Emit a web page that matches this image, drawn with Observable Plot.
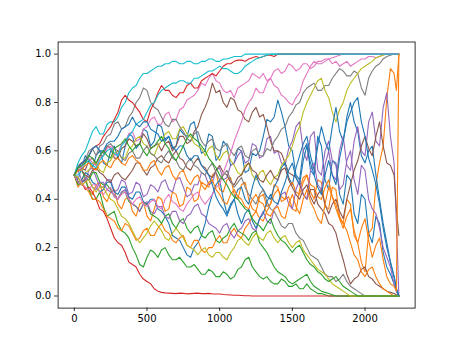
<!DOCTYPE html>
<html><head><meta charset="utf-8">
<script src="https://cdn.jsdelivr.net/npm/d3@7"></script>
<script src="https://cdn.jsdelivr.net/npm/@observablehq/plot@0.6"></script>
<style>body{margin:0;background:#fff} #chart svg{display:block}</style>
</head><body><div id="chart"></div>
<script>
// main sample steps and the in-between steps
const steps = [0,50,100,150,200,250,300,350,400,450,500,550,600,650,700,750,800,850,900,950,1000,1050,1100,1150,1200,1250,1300,1350,1400,1450,1500,1550,1600,1650,1700,1750,1800,1850,1900,1950,2000,2050,2100,2150,2200,2233];
const midSteps = [25,75,125,175,225,275,325,375,425,475,525,575,625,675,725,775,825,875,925,975,1025,1075,1125,1175,1225,1275,1325,1375,1425,1475,1525,1575,1625,1675,1725,1775,1825,1875,1925,1975,2025,2075,2125,2175,2216];
const xTicks = [0,500,1000,1500,2000];
const yTicks = [0,0.2,0.4,0.6,0.8,1.0];

const s0 = [0.50,0.53,0.56,0.58,0.55,0.60,0.57,0.62,0.66,0.63, 0.68,0.64,0.70,0.66,0.62,0.67,0.71,0.65,0.60,0.66, 0.58,0.62,0.55,0.60,0.52,0.58,0.66,0.72,0.81,0.70, 0.60,0.48,0.63,0.50,0.62,0.44,0.55,0.38,0.48,0.30, 0.40,0.22,0.30,0.12,0.05,0.00];
const m0 = [0.48,0.58,0.53,0.60,0.54,0.62,0.55,0.67,0.61,0.69, 0.62,0.71,0.64,0.61,0.69,0.66,0.72,0.59,0.67,0.56, 0.64,0.54,0.61,0.51,0.59,0.60,0.73,0.74,0.76,0.62, 0.50,0.60,0.52,0.66,0.48,0.56,0.42,0.50,0.34,0.42, 0.26,0.33,0.18,0.09,0.02];
const s1 = [0.50,0.47,0.44,0.46,0.41,0.43,0.38,0.40,0.35,0.38, 0.33,0.36,0.40,0.36,0.42,0.38,0.44,0.40,0.46,0.50, 0.44,0.48,0.42,0.46,0.40,0.35,0.42,0.38,0.45,0.40, 0.36,0.44,0.50,0.40,0.47,0.36,0.44,0.30,0.38,0.22, 0.10,0.28,0.55,0.82,0.92,1.00];
const m1 = [0.45,0.49,0.42,0.47,0.39,0.44,0.36,0.41,0.33,0.39, 0.31,0.41,0.35,0.43,0.37,0.45,0.39,0.47,0.45,0.51, 0.43,0.49,0.40,0.47,0.36,0.41,0.37,0.46,0.39,0.41, 0.35,0.49,0.43,0.48,0.37,0.45,0.33,0.40,0.25,0.14, 0.26,0.46,0.62,0.94,0.85];
const s2 = [0.50,0.47,0.44,0.40,0.37,0.34,0.30,0.26,0.20,0.13, 0.16,0.18,0.19,0.17,0.15,0.14,0.12,0.11,0.09,0.10, 0.08,0.09,0.08,0.12,0.16,0.10,0.07,0.06,0.05,0.06, 0.04,0.03,0.05,0.02,0.01,0,0,0,0,0, 0,0,0,0,0,0];
const m2 = [0.46,0.48,0.40,0.43,0.33,0.35,0.27,0.24,0.17,0.12, 0.19,0.16,0.20,0.15,0.16,0.12,0.13,0.09,0.11,0.08, 0.10,0.07,0.11,0.15,0.12,0.08,0.08,0.05,0.07,0.04, 0.05,0.03,0.03,0.01,0.005,0,0,0,0,0, 0,0,0,0,0];
const s3 = [0.50,0.47,0.45,0.40,0.35,0.28,0.22,0.18,0.13,0.09, 0.06,0.03,0.015,0.012,0.010,0.011,0.010,0.012,0.010,0.009, 0.008,0.005,0.003,0.002,0.001,0,0,0,0,0, 0,0,0,0,0,0,0,0,0,0, 0,0,0,0,0,0];
const m3 = [0.49,0.44,0.43,0.36,0.32,0.24,0.21,0.14,0.12,0.07, 0.05,0.02,0.013,0.011,0.012,0.009,0.011,0.010,0.011,0.008, 0.006,0.004,0.003,0.001,0,0,0,0,0,0, 0,0,0,0,0,0,0,0,0,0, 0,0,0,0,0];
const s4 = [0.50,0.48,0.52,0.49,0.45,0.48,0.44,0.47,0.43,0.46, 0.42,0.45,0.47,0.44,0.48,0.45,0.42,0.46,0.50,0.47, 0.53,0.49,0.55,0.60,0.56,0.62,0.58,0.66,0.60,0.54, 0.64,0.72,0.56,0.68,0.50,0.64,0.54,0.46,0.60,0.42, 0.52,0.36,0.28,0.16,0.05,0.00];
const m4 = [0.52,0.47,0.53,0.45,0.48,0.43,0.48,0.42,0.47,0.41, 0.46,0.43,0.48,0.43,0.49,0.41,0.46,0.51,0.46,0.52, 0.48,0.54,0.58,0.55,0.63,0.57,0.65,0.59,0.55,0.61, 0.70,0.60,0.66,0.52,0.60,0.56,0.44,0.56,0.48,0.54, 0.40,0.34,0.20,0.12,0.02];
const s5 = [0.50,0.53,0.56,0.54,0.58,0.61,0.57,0.62,0.64,0.63, 0.65,0.62,0.60,0.64,0.62,0.66,0.64,0.70,0.78,0.88, 0.85,0.78,0.81,0.76,0.72,0.78,0.75,0.64,0.60,0.55, 0.50,0.46,0.40,0.44,0.36,0.30,0.26,0.15,0.05,0.08, 0.12,0.07,0.04,0.02,0.01,0.00];
const m5 = [0.53,0.52,0.57,0.58,0.62,0.57,0.61,0.65,0.62,0.67, 0.61,0.63,0.63,0.60,0.66,0.63,0.68,0.75,0.82,0.84, 0.80,0.82,0.77,0.73,0.76,0.74,0.70,0.60,0.59,0.51, 0.49,0.42,0.44,0.38,0.34,0.29,0.20,0.09,0.07,0.11, 0.08,0.05,0.03,0.015,0.005];
const s6 = [0.50,0.53,0.57,0.54,0.58,0.62,0.59,0.64,0.68,0.65, 0.70,0.74,0.71,0.76,0.73,0.78,0.82,0.85,0.87,0.92, 0.88,0.84,0.82,0.87,0.89,0.91,0.92,0.90,0.94,0.93, 0.95,0.94,0.96,0.95,0.97,0.98,0.97,0.96,0.95,0.97, 0.98,0.99,0.99,1,1,1];
const m6 = [0.52,0.56,0.55,0.57,0.61,0.58,0.63,0.67,0.64,0.69, 0.73,0.71,0.75,0.72,0.77,0.81,0.83,0.88,0.90,0.89, 0.85,0.85,0.86,0.88,0.92,0.90,0.89,0.93,0.92,0.96, 0.93,0.96,0.94,0.97,0.98,0.96,0.95,0.97,0.96,0.98, 0.99,0.985,1,1,1];
const s7 = [0.50,0.55,0.60,0.58,0.63,0.67,0.72,0.70,0.76,0.82, 0.85,0.78,0.74,0.70,0.73,0.68,0.64,0.68,0.62,0.65, 0.60,0.63,0.58,0.62,0.57,0.61,0.58,0.60,0.66,0.70, 0.76,0.80,0.86,0.88,0.85,0.87,0.92,0.93,0.91,0.92, 0.83,0.93,0.96,0.99,1,1];
const m7 = [0.54,0.56,0.61,0.62,0.66,0.71,0.69,0.74,0.80,0.86, 0.80,0.77,0.71,0.73,0.70,0.65,0.67,0.64,0.64,0.61, 0.62,0.60,0.61,0.58,0.60,0.58,0.61,0.64,0.69,0.74, 0.79,0.84,0.87,0.85,0.87,0.90,0.94,0.91,0.93,0.86, 0.90,0.95,0.98,0.995,1];
const s8 = [0.50,0.48,0.52,0.55,0.51,0.56,0.60,0.57,0.62,0.66, 0.62,0.58,0.64,0.68,0.65,0.70,0.66,0.62,0.58,0.62, 0.56,0.60,0.54,0.50,0.55,0.48,0.52,0.46,0.50,0.56, 0.62,0.70,0.80,0.86,0.90,0.82,0.72,0.80,0.88,0.92, 0.95,0.97,0.99,1,1,1];
const m8 = [0.47,0.51,0.55,0.52,0.55,0.59,0.57,0.61,0.65,0.63, 0.59,0.62,0.67,0.65,0.69,0.67,0.63,0.61,0.61,0.58, 0.59,0.56,0.51,0.54,0.50,0.51,0.48,0.49,0.54,0.58, 0.67,0.76,0.83,0.89,0.85,0.76,0.77,0.85,0.90,0.94, 0.96,0.985,0.995,1,1];
const s9 = [0.50,0.58,0.64,0.70,0.67,0.72,0.74,0.80,0.86,0.90, 0.92,0.94,0.95,0.96,0.97,0.96,0.97,0.96,0.97,0.98, 0.97,0.98,0.99,0.99,1,1,1,1,1,1, 1,1,1,1,1,1,1,1,1,1, 1,1,1,1,1,1];
const m9 = [0.55,0.60,0.68,0.67,0.71,0.72,0.78,0.84,0.87,0.92, 0.93,0.95,0.96,0.97,0.96,0.97,0.96,0.97,0.98,0.97, 0.98,0.985,0.99,1,1,1,1,1,1,1, 1,1,1,1,1,1,1,1,1,1, 1,1,1,1,1];
const s10 = [0.50,0.48,0.50,0.46,0.44,0.47,0.42,0.45,0.40,0.43, 0.38,0.40,0.35,0.30,0.24,0.20,0.16,0.22,0.30,0.42, 0.48,0.34,0.40,0.45,0.38,0.50,0.44,0.40,0.48,0.55, 0.46,0.58,0.66,0.52,0.70,0.60,0.78,0.64,0.80,0.68, 0.55,0.62,0.40,0.22,0.08,0.00];
const m10 = [0.47,0.51,0.47,0.43,0.47,0.43,0.45,0.41,0.43,0.39, 0.40,0.36,0.33,0.25,0.23,0.17,0.20,0.25,0.37,0.46, 0.40,0.38,0.44,0.40,0.45,0.46,0.41,0.45,0.53,0.49, 0.53,0.63,0.58,0.62,0.64,0.70,0.68,0.74,0.72,0.58, 0.60,0.50,0.30,0.14,0.03];
const s11 = [0.50,0.46,0.43,0.40,0.36,0.32,0.28,0.30,0.26,0.24, 0.28,0.25,0.30,0.26,0.22,0.25,0.20,0.23,0.18,0.20, 0.25,0.22,0.28,0.24,0.30,0.35,0.31,0.38,0.44,0.40, 0.47,0.42,0.50,0.45,0.40,0.48,0.36,0.30,0.22,0.15, 0.08,0.12,0.05,0.02,0,0];
const m11 = [0.47,0.45,0.40,0.39,0.33,0.31,0.27,0.29,0.23,0.27, 0.25,0.28,0.27,0.23,0.24,0.21,0.23,0.19,0.20,0.23, 0.22,0.26,0.25,0.28,0.33,0.32,0.35,0.42,0.41,0.45, 0.43,0.47,0.46,0.41,0.45,0.41,0.32,0.27,0.17,0.10, 0.11,0.08,0.03,0.01,0];
const s12 = [0.50,0.52,0.48,0.51,0.46,0.44,0.40,0.43,0.38,0.35, 0.38,0.33,0.30,0.34,0.28,0.32,0.26,0.29,0.24,0.27, 0.22,0.25,0.30,0.26,0.23,0.27,0.20,0.15,0.10,0.08, 0.05,0.07,0.09,0.04,0.02,0.01,0,0,0,0, 0,0,0,0,0,0];
const m12 = [0.52,0.49,0.51,0.47,0.46,0.41,0.43,0.39,0.37,0.38, 0.34,0.32,0.33,0.30,0.31,0.28,0.28,0.25,0.26,0.23, 0.24,0.28,0.27,0.25,0.26,0.22,0.18,0.12,0.09,0.06, 0.06,0.08,0.06,0.03,0.015,0.005,0,0,0,0, 0,0,0,0,0];
const s13 = [0.50,0.55,0.58,0.62,0.66,0.70,0.76,0.83,0.80,0.76, 0.72,0.80,0.87,0.85,0.82,0.84,0.88,0.86,0.90,0.92, 0.93,0.96,0.97,0.975,0.98,0.99,0.99,0.995,1,1, 1,1,1,1,1,1,1,1,1,1, 1,1,1,1,1,1];
const m13 = [0.53,0.56,0.61,0.63,0.68,0.73,0.81,0.81,0.78,0.73, 0.77,0.84,0.85,0.83,0.84,0.87,0.86,0.89,0.91,0.91, 0.95,0.96,0.975,0.97,0.985,0.985,0.995,0.99,1,1, 1,1,1,1,1,1,1,1,1,1, 1,1,1,1,1];
const s14 = [0.50,0.46,0.48,0.44,0.47,0.43,0.40,0.44,0.38,0.35, 0.39,0.34,0.37,0.32,0.35,0.30,0.34,0.38,0.33,0.29, 0.26,0.30,0.24,0.28,0.32,0.27,0.35,0.30,0.38,0.43, 0.36,0.48,0.40,0.55,0.44,0.60,0.48,0.66,0.52,0.70, 0.58,0.76,0.62,0.84,0.55,0.00];
const m14 = [0.47,0.49,0.45,0.47,0.44,0.42,0.43,0.40,0.37,0.38, 0.35,0.37,0.33,0.35,0.31,0.33,0.37,0.34,0.30,0.28, 0.29,0.26,0.27,0.31,0.28,0.32,0.31,0.36,0.42,0.38, 0.44,0.42,0.52,0.46,0.54,0.50,0.60,0.54,0.64,0.60, 0.72,0.64,0.78,0.66,0.30];
const s15 = [0.50,0.52,0.49,0.53,0.50,0.47,0.51,0.48,0.52,0.55, 0.50,0.54,0.58,0.55,0.60,0.56,0.52,0.57,0.53,0.49, 0.54,0.50,0.46,0.50,0.55,0.51,0.47,0.52,0.48,0.53, 0.45,0.40,0.46,0.38,0.44,0.34,0.40,0.32,0.46,0.56, 0.66,0.58,0.72,0.55,0.50,0.25];
const m15 = [0.52,0.50,0.52,0.51,0.48,0.50,0.49,0.50,0.55,0.52, 0.53,0.57,0.56,0.58,0.57,0.53,0.55,0.54,0.50,0.52, 0.51,0.47,0.49,0.53,0.52,0.48,0.50,0.49,0.52,0.48, 0.42,0.44,0.41,0.42,0.38,0.38,0.35,0.40,0.52,0.62, 0.61,0.66,0.62,0.54,0.36];
const s16 = [0.50,0.47,0.44,0.46,0.42,0.45,0.40,0.43,0.38,0.41, 0.37,0.40,0.36,0.42,0.38,0.35,0.40,0.43,0.38,0.42, 0.46,0.55,0.64,0.72,0.80,0.86,0.84,0.90,0.86,0.82, 0.79,0.84,0.92,0.97,0.96,0.98,0.99,1,1,1, 1,1,1,1,1,1];
const m16 = [0.49,0.45,0.46,0.43,0.44,0.41,0.42,0.40,0.40,0.38, 0.39,0.37,0.40,0.39,0.36,0.38,0.42,0.40,0.40,0.45, 0.51,0.59,0.68,0.77,0.82,0.84,0.88,0.87,0.83,0.80, 0.82,0.89,0.95,0.96,0.97,0.985,0.995,1,1,1, 1,1,1,1,1];
const s17 = [0.50,0.54,0.58,0.62,0.59,0.63,0.60,0.56,0.60,0.57, 0.62,0.58,0.55,0.60,0.56,0.52,0.57,0.53,0.50,0.55, 0.48,0.52,0.45,0.49,0.42,0.38,0.44,0.36,0.32,0.28, 0.30,0.24,0.20,0.16,0.12,0.08,0.06,0.09,0.04,0.02, 0,0,0,0,0,0];
const m17 = [0.53,0.55,0.61,0.60,0.62,0.61,0.57,0.59,0.57,0.60, 0.59,0.56,0.58,0.57,0.53,0.55,0.54,0.51,0.53,0.51, 0.50,0.48,0.47,0.45,0.40,0.42,0.39,0.35,0.29,0.30, 0.26,0.23,0.17,0.15,0.09,0.08,0.07,0.06,0.03,0.01, 0,0,0,0,0];
const s18 = [0.50,0.46,0.48,0.43,0.45,0.40,0.36,0.32,0.27,0.22, 0.26,0.31,0.27,0.23,0.28,0.24,0.20,0.17,0.20,0.16, 0.18,0.15,0.20,0.24,0.21,0.26,0.23,0.27,0.22,0.25, 0.20,0.23,0.17,0.13,0.10,0.07,0.04,0.02,0,0, 0,0,0,0,0,0];
const m18 = [0.49,0.47,0.45,0.45,0.42,0.39,0.33,0.30,0.24,0.24, 0.29,0.29,0.24,0.26,0.26,0.21,0.19,0.19,0.17,0.18, 0.16,0.18,0.23,0.22,0.24,0.24,0.26,0.24,0.24,0.22, 0.22,0.19,0.15,0.11,0.09,0.05,0.03,0.01,0,0, 0,0,0,0,0];
const s19 = [0.50,0.52,0.56,0.53,0.58,0.61,0.58,0.64,0.68,0.72, 0.76,0.80,0.85,0.87,0.88,0.89,0.88,0.90,0.92,0.93, 0.95,0.94,0.92,0.93,0.96,0.98,0.99,1,1,1, 1,1,1,1,1,1,1,1,1,1, 1,1,1,1,1,1];
const m19 = [0.50,0.55,0.54,0.56,0.60,0.59,0.62,0.66,0.71,0.73, 0.79,0.83,0.86,0.88,0.89,0.88,0.90,0.91,0.93,0.94, 0.94,0.93,0.92,0.95,0.97,0.985,0.995,1,1,1, 1,1,1,1,1,1,1,1,1,1, 1,1,1,1,1];
const s20 = [0.50,0.55,0.58,0.62,0.60,0.64,0.66,0.70,0.74,0.70, 0.72,0.68,0.64,0.66,0.60,0.62,0.56,0.58,0.52,0.46, 0.38,0.33,0.40,0.30,0.36,0.28,0.34,0.42,0.38,0.47, 0.55,0.46,0.62,0.50,0.42,0.56,0.46,0.64,0.76,0.82, 0.66,0.52,0.38,0.20,0.08,0.00];
const m20 = [0.53,0.56,0.61,0.60,0.63,0.64,0.69,0.71,0.71,0.72, 0.69,0.67,0.65,0.62,0.62,0.58,0.58,0.54,0.50,0.41, 0.36,0.37,0.34,0.34,0.31,0.32,0.39,0.39,0.43,0.52, 0.49,0.56,0.55,0.45,0.50,0.50,0.57,0.72,0.80,0.72, 0.57,0.46,0.28,0.14,0.03];
const s21 = [0.50,0.52,0.55,0.52,0.56,0.53,0.57,0.54,0.58,0.55, 0.52,0.56,0.50,0.54,0.48,0.52,0.46,0.50,0.44,0.48, 0.42,0.38,0.44,0.40,0.36,0.42,0.38,0.33,0.37,0.32, 0.42,0.34,0.44,0.36,0.30,0.45,0.38,0.28,0.36,0.22, 0.32,0.16,0.24,0.08,0.04,1.00];
const m21 = [0.52,0.54,0.53,0.55,0.54,0.56,0.55,0.57,0.56,0.52, 0.55,0.52,0.53,0.50,0.51,0.48,0.49,0.46,0.47,0.44, 0.39,0.42,0.41,0.37,0.40,0.39,0.34,0.36,0.33,0.38, 0.37,0.40,0.39,0.32,0.38,0.41,0.32,0.33,0.27,0.28, 0.23,0.21,0.15,0.05,0.02];
const s22 = [0.50,0.54,0.58,0.55,0.60,0.57,0.62,0.65,0.60,0.63, 0.58,0.62,0.66,0.61,0.56,0.62,0.67,0.64,0.60,0.55, 0.50,0.46,0.41,0.38,0.35,0.30,0.27,0.32,0.25,0.22, 0.18,0.21,0.15,0.12,0.09,0.06,0.08,0.04,0.02,0, 0,0,0,0,0,0];
const m22 = [0.53,0.55,0.57,0.58,0.58,0.61,0.63,0.62,0.62,0.60, 0.61,0.64,0.63,0.58,0.59,0.65,0.65,0.62,0.57,0.53, 0.48,0.43,0.40,0.36,0.32,0.29,0.30,0.28,0.23,0.20, 0.20,0.18,0.13,0.10,0.07,0.07,0.06,0.03,0.01,0, 0,0,0,0,0];

const series = [s0,s1,s2,s3,s4,s5,s6,s7,s8,s9,s10,s11,s12,s13,s14,s15,s16,s17,s18,s19,s20,s21,s22];
const mids = [m0,m1,m2,m3,m4,m5,m6,m7,m8,m9,m10,m11,m12,m13,m14,m15,m16,m17,m18,m19,m20,m21,m22];
const palette = ["#1f77b4","#ff7f0e","#2ca02c","#d62728","#9467bd","#8c564b","#e377c2","#7f7f7f","#bcbd22","#17becf"];

// interleave the main readings with the in-between readings for each run
const rows = [];
series.forEach((vals, i) => {
  vals.forEach((v, j) => {
    rows.push({step: steps[j], value: v, run: i});
    if (j < mids[i].length) rows.push({step: midSteps[j], value: mids[i][j], run: i});
  });
});

const chart = Plot.plot({
  width: 460, height: 345,
  marginLeft: 57.6, marginRight: 45.4, marginTop: 41.5, marginBottom: 37.4,
  style: {fontFamily: "DejaVu Sans", fontSize: "10px", background: "#fff", color: "#000"},
  x: {domain: [-111.65, 2344.65]},
  y: {domain: [-0.05, 1.05]},
  marks: [
    ...series.map((vals, i) => Plot.line(rows.filter(r => r.run === i), {x: "step", y: "value", stroke: palette[i % 10], strokeWidth: 1.1})),
    Plot.frame({stroke: "#000", strokeWidth: 0.8}),
    Plot.axisX({ticks: xTicks, tickSize: 3.5, tickPadding: 3.5, strokeWidth: 0.8, label: null, tickFormat: d => String(d)}),
    Plot.axisY({ticks: yTicks, tickSize: 3.5, tickPadding: 3.5, strokeWidth: 0.8, label: null, tickFormat: d => d.toFixed(1)})
  ]
});
document.getElementById("chart").appendChild(chart);
</script>
</body></html>
